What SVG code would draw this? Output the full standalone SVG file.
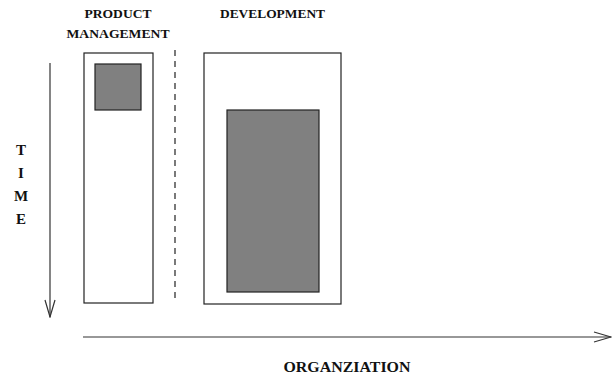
<svg xmlns="http://www.w3.org/2000/svg" width="616" height="377" viewBox="0 0 616 377">
<defs>
<style>
.lbl{font-family:"Liberation Serif","Times New Roman",serif;font-weight:bold;fill:#111;}
.box{fill:#fff;stroke:#222;stroke-width:1.2;}
.blk{fill:#808080;stroke:#222;stroke-width:1.2;}
.ax{stroke:#333;stroke-width:1.2;fill:none;}
</style>
<marker id="open" markerWidth="19" markerHeight="12" refX="18" refY="6" orient="auto" markerUnits="userSpaceOnUse">
<path d="M1,1 L18,6 L1,11" fill="none" stroke="#333" stroke-width="1.2"/>
</marker>
</defs>
<rect width="616" height="377" fill="#fff"/>
<g id="labels">
<text class="lbl" x="118" y="18" font-size="13" text-anchor="middle" textLength="67" lengthAdjust="spacingAndGlyphs">PRODUCT</text>
<text class="lbl" x="118" y="38" font-size="13" text-anchor="middle" textLength="103" lengthAdjust="spacingAndGlyphs">MANAGEMENT</text>
<text class="lbl" x="272.5" y="18" font-size="13" text-anchor="middle" textLength="105" lengthAdjust="spacingAndGlyphs">DEVELOPMENT</text>
<text class="lbl" x="21" y="155" font-size="15" text-anchor="middle">T</text>
<text class="lbl" x="21" y="178" font-size="15" text-anchor="middle">I</text>
<text class="lbl" x="21" y="201" font-size="15" text-anchor="middle">M</text>
<text class="lbl" x="21" y="224" font-size="15" text-anchor="middle">E</text>
<text class="lbl" x="347" y="372" font-size="15" text-anchor="middle" textLength="127" lengthAdjust="spacingAndGlyphs">ORGANZIATION</text>
</g>
<g id="product-management">
<rect class="box" x="84" y="53" width="69" height="250"/>
<rect class="blk" x="95" y="64" width="46" height="46"/>
</g>
<g id="development">
<rect class="box" x="204" y="53" width="137" height="251"/>
<rect class="blk" x="227" y="110" width="92" height="182"/>
</g>
<g id="connectors">
<line x1="175" y1="50" x2="175" y2="303" stroke="#222" stroke-width="1.2" stroke-dasharray="6,5"/>
<line class="ax" x1="50" y1="63" x2="50" y2="317" marker-end="url(#open)"/>
<line class="ax" x1="83" y1="337" x2="611" y2="337" marker-end="url(#open)"/>
</g>
</svg>
